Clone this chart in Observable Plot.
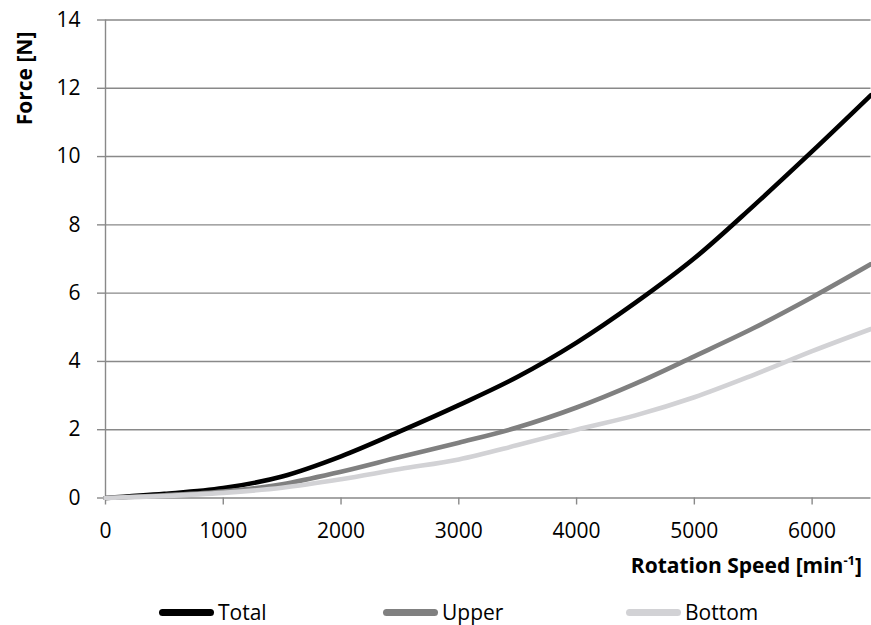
<!DOCTYPE html>
<html>
<head>
<meta charset="utf-8">
<script src="https://cdn.jsdelivr.net/npm/d3@7"></script>
<script src="https://cdn.jsdelivr.net/npm/@observablehq/plot@0.6"></script>
<style>
  html, body { margin: 0; padding: 0; background: #fff; }
  body { font-family: 'Open Sans', 'Noto Sans', sans-serif; }
  #wrap { position: relative; width: 871px; height: 625px; overflow: hidden; }
  #legend { position: absolute; left: 0; top: 594px; width: 871px; height: 36px; }
  .item { position: absolute; top: 0; height: 36px; display: flex; align-items: center; font-size: 21px; color: #000; }
  .sw { display: inline-block; width: 55px; height: 7px; border-radius: 4px; margin-right: 4px; }
</style>
</head>
<body>
<div id="wrap">
  <div id="chart"></div>
  <div id="legend"></div>
</div>
<script>
// ---- data ----
const speeds = [0, 500, 1000, 1500, 2000, 2500, 3000, 3500, 4000, 4500, 5000, 5500, 6000, 6500];
const totalForce  = [0, 0.12, 0.29, 0.63, 1.22, 1.95, 2.72, 3.55, 4.55, 5.72, 7.02, 8.55, 10.15, 11.8];
const upperForce  = [0, 0.08, 0.19, 0.40, 0.77, 1.2, 1.62, 2.07, 2.65, 3.35, 4.15, 4.97, 5.88, 6.85];
const bottomForce = [0, 0.06, 0.15, 0.30, 0.55, 0.85, 1.13, 1.55, 2.0, 2.42, 2.95, 3.6, 4.3, 4.95];
const seriesNames = ["Total", "Upper", "Bottom"];
const seriesColors = ["#000000", "#808080", "#d2d2d5"];
const xTicks = [0, 1000, 2000, 3000, 4000, 5000, 6000];
const yTicks = [0, 2, 4, 6, 8, 10, 12, 14];
const xLabel = "Rotation Speed [min";
const xLabelSup = "-1";
const yLabel = "Force [N]";

const seriesValues = [totalForce, upperForce, bottomForce];
const rows = [];
seriesNames.forEach((name, i) => {
  speeds.forEach((s, j) => rows.push({series: name, speed: s, force: seriesValues[i][j]}));
});

const gridColor = "#898989";
const font = "'Open Sans', 'Noto Sans', sans-serif";

const svg = Plot.plot({
  width: 871,
  height: 590,
  marginLeft: 105,
  marginRight: 0.5,
  marginTop: 19.5,
  marginBottom: 92.5,
  style: {fontFamily: font, fontSize: "21px", color: "#000", background: "#fff"},
  x: {domain: [0, 6500]},
  y: {domain: [0, 14]},
  color: {domain: seriesNames, range: seriesColors},
  marks: [
    Plot.gridY(yTicks, {stroke: gridColor, strokeOpacity: 1, strokeWidth: 1.4}),
    Plot.ruleX([0], {stroke: gridColor, strokeWidth: 1.4}),
    Plot.axisY(yTicks, {tickSize: 8, tickPadding: 17, stroke: gridColor, strokeWidth: 1.4, fill: "#000", fontSize: 21, label: null, tickFormat: d => String(d)}),
    Plot.axisX(xTicks, {tickSize: 7, tickPadding: 18, stroke: gridColor, strokeWidth: 1.4, fill: "#000", fontSize: 21, label: null, tickFormat: d => String(d)}),
    Plot.line(rows, {x: "speed", y: "force", z: "series", stroke: "series", strokeWidth: 4.6, curve: "catmull-rom"})
  ]
});

const sel = d3.select(svg);
// y-axis title
sel.append("text")
  .attr("transform", "translate(31.5,78.5) rotate(-90)")
  .attr("text-anchor", "middle")
  .attr("font-family", font)
  .attr("font-size", 21)
  .attr("font-weight", "bold")
  .attr("fill", "#000")
  .text(yLabel);
// x-axis title with superscript
const t = sel.append("text")
  .attr("x", 862).attr("y", 573)
  .attr("text-anchor", "end")
  .attr("font-family", font)
  .attr("font-size", 21)
  .attr("font-weight", "bold")
  .attr("fill", "#000");
t.append("tspan").text(xLabel);
t.append("tspan").attr("font-size", 13).attr("dy", -8).text(xLabelSup);
t.append("tspan").attr("dy", 8).text("]");

document.getElementById("chart").appendChild(svg);

// legend
const legendPos = [159, 383, 626];
const legend = document.getElementById("legend");
seriesNames.forEach((name, i) => {
  const it = document.createElement("div");
  it.className = "item";
  it.style.left = legendPos[i] + "px";
  const sw = document.createElement("span");
  sw.className = "sw";
  sw.style.background = seriesColors[i];
  it.appendChild(sw);
  it.appendChild(document.createTextNode(name));
  legend.appendChild(it);
});
</script>
</body>
</html>
